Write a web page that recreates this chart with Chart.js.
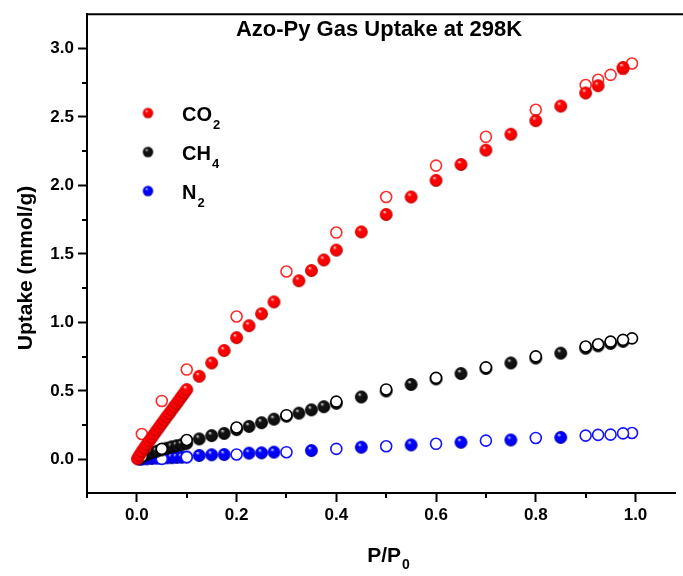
<!DOCTYPE html>
<html>
<head>
<meta charset="utf-8">
<title>Azo-Py Gas Uptake at 298K</title>
<script src="https://cdn.jsdelivr.net/npm/chart.js@4.4.1/dist/chart.umd.min.js"></script>
<style>
  html, body { margin: 0; padding: 0; background: #fff; overflow: hidden; }
  #wrap { width: 683px; height: 576px; }
</style>
</head>
<body>
<div id="wrap"><canvas id="c" width="683" height="576"></canvas></div>
<script>
// ---- Isotherm data (relative pressure P/P0, uptake in mmol/g) ----
const gasLabels = ['CO', 'CH', 'N'];
const gasSubscripts = ['2', '4', '2'];

// CO2 adsorption (filled) and desorption (open)
const co2AdsP = [0.001, 0.005, 0.01, 0.015, 0.02, 0.025, 0.03, 0.035, 0.04, 0.045, 0.05, 0.055, 0.06, 0.065, 0.07, 0.075, 0.08, 0.085, 0.09, 0.095, 0.1,
                 0.125, 0.15, 0.175, 0.2, 0.225, 0.25, 0.275, 0.325, 0.35, 0.375, 0.4, 0.45, 0.5, 0.55, 0.6, 0.65, 0.7, 0.75, 0.8, 0.85, 0.9, 0.925, 0.975];
const co2AdsU = [0.005, 0.03, 0.058, 0.084, 0.11, 0.136, 0.161, 0.187, 0.212, 0.237, 0.262, 0.287, 0.312, 0.336, 0.361, 0.386, 0.41, 0.435, 0.46, 0.485, 0.51,
                 0.607, 0.704, 0.795, 0.889, 0.976, 1.063, 1.15, 1.304, 1.379, 1.456, 1.528, 1.661, 1.788, 1.916, 2.037, 2.153, 2.258, 2.374, 2.473, 2.579, 2.675, 2.728, 2.861];
const co2DesP = [0.993, 0.975, 0.95, 0.925, 0.9, 0.8, 0.7, 0.6, 0.5, 0.4, 0.3, 0.2, 0.1, 0.05, 0.01];
const co2DesU = [2.89, 2.85, 2.807, 2.771, 2.733, 2.552, 2.355, 2.145, 1.916, 1.656, 1.372, 1.043, 0.656, 0.427, 0.186];

// CH4 adsorption (filled) and desorption (open)
const ch4AdsP = [0.005, 0.01, 0.02, 0.03, 0.04, 0.05, 0.06, 0.07, 0.08, 0.09, 0.1,
                 0.125, 0.15, 0.175, 0.2, 0.225, 0.25, 0.275, 0.3, 0.325, 0.35, 0.375, 0.4, 0.45, 0.5, 0.55, 0.6, 0.65, 0.7, 0.75, 0.8, 0.85, 0.9, 0.925, 0.95, 0.975];
const ch4AdsU = [0.01, 0.02, 0.036, 0.05, 0.06, 0.07, 0.082, 0.092, 0.1, 0.108, 0.118,
                 0.15, 0.174, 0.19, 0.218, 0.241, 0.268, 0.294, 0.316, 0.338, 0.362, 0.385, 0.41, 0.456, 0.5, 0.547, 0.588, 0.627, 0.664, 0.704, 0.74, 0.776, 0.812, 0.829, 0.847, 0.862];
const ch4DesP = [0.993, 0.975, 0.95, 0.925, 0.9, 0.8, 0.7, 0.6, 0.5, 0.4, 0.3, 0.2, 0.1, 0.05, 0.01];
const ch4DesU = [0.884, 0.873, 0.86, 0.841, 0.824, 0.752, 0.672, 0.595, 0.511, 0.422, 0.323, 0.233, 0.142, 0.077, 0.022];

// N2 adsorption (filled) and desorption (open)
const n2AdsP = [0.005, 0.01, 0.02, 0.03, 0.04, 0.05, 0.06, 0.07, 0.08, 0.09, 0.1,
                0.125, 0.15, 0.175, 0.225, 0.25, 0.275, 0.35, 0.45, 0.55, 0.65, 0.75, 0.85];
const n2AdsU = [0.002, 0.003, 0.005, 0.007, 0.009, 0.01, 0.012, 0.013, 0.015, 0.016, 0.018,
                0.029, 0.034, 0.036, 0.046, 0.048, 0.053, 0.065, 0.089, 0.106, 0.125, 0.142, 0.161];
const n2DesP = [0.993, 0.975, 0.95, 0.925, 0.9, 0.8, 0.7, 0.6, 0.5, 0.4, 0.3, 0.2, 0.1, 0.05];
const n2DesU = [0.193, 0.19, 0.181, 0.179, 0.174, 0.157, 0.137, 0.114, 0.096, 0.077, 0.053, 0.036, 0.017, 0.004];

// Axis ticks
const xTicks = [0, 0.2, 0.4, 0.6, 0.8, 1.0];
const xMinorTicks = [-0.1, 0.1, 0.3, 0.5, 0.7, 0.9];
const yTicks = [0, 0.5, 1.0, 1.5, 2.0, 2.5, 3.0];
const yMinorTicks = [0.25, 0.75, 1.25, 1.75, 2.25, 2.75];

const FONT = '"Liberation Sans", Arial, Helvetica, sans-serif';

// Shaded sphere marker drawn once onto a small canvas and reused as a point style
function sphereSprite(base, light, dark, r) {
  const size = Math.ceil(r * 2 + 2);
  const cv = document.createElement('canvas');
  cv.width = size; cv.height = size;
  const g = cv.getContext('2d');
  const c = size / 2;
  const grad = g.createRadialGradient(c - r * 0.3, c - r * 0.45, r * 0.05, c, c, r);
  grad.addColorStop(0, light);
  grad.addColorStop(0.28, base);
  grad.addColorStop(0.75, base);
  grad.addColorStop(1, dark);
  g.fillStyle = grad;
  g.beginPath();
  g.arc(c, c, r, 0, Math.PI * 2);
  g.fill();
  return cv;
}

const redBall = sphereSprite('#ff0000', '#ffd0d0', '#b00000', 6.4);
const blackBall = sphereSprite('#111111', '#d8d8d8', '#000000', 6.4);
const blueBall = sphereSprite('#0000ff', '#d0d0ff', '#0000a8', 6.4);
const legendBalls = [
  sphereSprite('#ff0000', '#ffd0d0', '#b00000', 5.2),
  sphereSprite('#111111', '#d8d8d8', '#000000', 5.2),
  sphereSprite('#0000ff', '#d0d0ff', '#0000a8', 5.2)
];

const toPoints = (P, U) => P.map((p, i) => ({ x: p, y: U[i] }));

function filledSet(label, P, U, sprite) {
  return { label, data: toPoints(P, U), pointStyle: sprite, pointRadius: 6, showLine: false };
}
function openSet(label, P, U, color) {
  return { label, data: toPoints(P, U), pointStyle: 'circle', pointRadius: 5.5,
           borderWidth: 1.6, borderColor: color, backgroundColor: '#ffffff', showLine: false };
}

// Index 0 is painted last (on top)
const datasets = [
  filledSet('CO2 adsorption', co2AdsP, co2AdsU, redBall),
  openSet('CO2 desorption', co2DesP, co2DesU, '#ff2b2b'),
  openSet('CH4 desorption', ch4DesP, ch4DesU, '#000000'),
  filledSet('CH4 adsorption', ch4AdsP, ch4AdsU, blackBall),
  openSet('N2 desorption', n2DesP, n2DesU, '#1414ff'),
  filledSet('N2 adsorption', n2AdsP, n2AdsU, blueBall)
];

// Frame, minor ticks, titles and legend
const decorations = {
  id: 'decorations',
  afterDraw(chart) {
    const ctx = chart.ctx;
    const area = chart.chartArea;
    const xs = chart.scales.x, ys = chart.scales.y;
    ctx.save();
    ctx.strokeStyle = '#000';
    ctx.lineWidth = 2;

    // top frame line
    ctx.beginPath();
    ctx.moveTo(area.left - 1, area.top);
    ctx.lineTo(chart.width, area.top);
    ctx.stroke();

    // minor ticks
    ctx.beginPath();
    xMinorTicks.forEach(v => {
      const px = Math.round(xs.getPixelForValue(v));
      ctx.moveTo(px, area.bottom);
      ctx.lineTo(px, area.bottom + 5);
    });
    yMinorTicks.forEach(v => {
      const py = Math.round(ys.getPixelForValue(v));
      ctx.moveTo(area.left, py);
      ctx.lineTo(area.left - 5, py);
    });
    ctx.stroke();

    ctx.fillStyle = '#000';
    ctx.textBaseline = 'alphabetic';

    // chart title inside the plot
    ctx.font = 'bold 22px ' + FONT;
    ctx.textAlign = 'center';
    ctx.fillText('Azo-Py Gas Uptake at 298K', 379, 36);

    // y axis title
    ctx.save();
    ctx.translate(26, 268);
    ctx.rotate(-Math.PI / 2);
    ctx.textBaseline = 'middle';
    ctx.font = 'bold 21px ' + FONT;
    ctx.fillText('Uptake (mmol/g)', 0, 0);
    ctx.restore();

    // x axis title with subscript
    ctx.textAlign = 'left';
    ctx.font = 'bold 21px ' + FONT;
    const main = 'P/P';
    const wMain = ctx.measureText(main).width;
    ctx.font = 'bold 14px ' + FONT;
    const wSub = ctx.measureText('0').width;
    const x0 = 388 - (wMain + wSub) / 2;
    ctx.font = 'bold 21px ' + FONT;
    ctx.fillText(main, x0, 562);
    ctx.font = 'bold 14px ' + FONT;
    ctx.fillText('0', x0 + wMain + 1, 569);

    // legend
    const rowY = [113, 152, 191];
    gasLabels.forEach((lab, i) => {
      const b = legendBalls[i];
      ctx.drawImage(b, 148 - b.width / 2, rowY[i] - b.height / 2);
      ctx.font = 'bold 20px ' + FONT;
      const base = rowY[i] + 7.5;
      ctx.fillText(lab, 182, base);
      const w = ctx.measureText(lab).width;
      ctx.font = 'bold 13px ' + FONT;
      ctx.fillText(gasSubscripts[i], 182 + w + 1, base + 8);
    });
    ctx.restore();
  }
};

const tickFont = { family: FONT, size: 17, weight: 'bold' };

new Chart(document.getElementById('c'), {
  type: 'scatter',
  data: { datasets },
  options: {
    responsive: false,
    animation: false,
    devicePixelRatio: 1,
    layout: { padding: { top: 10, right: 0, bottom: 0, left: 0 } },
    plugins: {
      legend: { display: false },
      tooltip: { enabled: false },
      title: { display: false }
    },
    elements: { point: { hoverRadius: 6 } },
    scales: {
      x: {
        type: 'linear',
        position: 'bottom',
        min: -0.1,
        max: 1.08,
        afterFit(scale) { scale.height = 83; },
        afterBuildTicks(scale) { scale.ticks = xTicks.map(v => ({ value: v })); },
        grid: { drawOnChartArea: false, drawTicks: true, tickLength: 9, tickWidth: 2, tickColor: '#000' },
        border: { display: true, color: '#000', width: 2 },
        ticks: { color: '#000', font: tickFont, padding: 3, maxRotation: 0, autoSkip: false,
                 callback: v => Number(v).toFixed(1) }
      },
      y: {
        type: 'linear',
        position: 'left',
        min: -0.245,
        max: 3.25,
        afterFit(scale) { scale.width = 87; },
        afterBuildTicks(scale) { scale.ticks = yTicks.map(v => ({ value: v })); },
        grid: { drawOnChartArea: false, drawTicks: true, tickLength: 9, tickWidth: 2, tickColor: '#000' },
        border: { display: true, color: '#000', width: 2 },
        ticks: { color: '#000', font: tickFont, padding: 4, autoSkip: false,
                 callback: v => Number(v).toFixed(1) }
      }
    }
  },
  plugins: [decorations]
});
</script>
</body>
</html>
